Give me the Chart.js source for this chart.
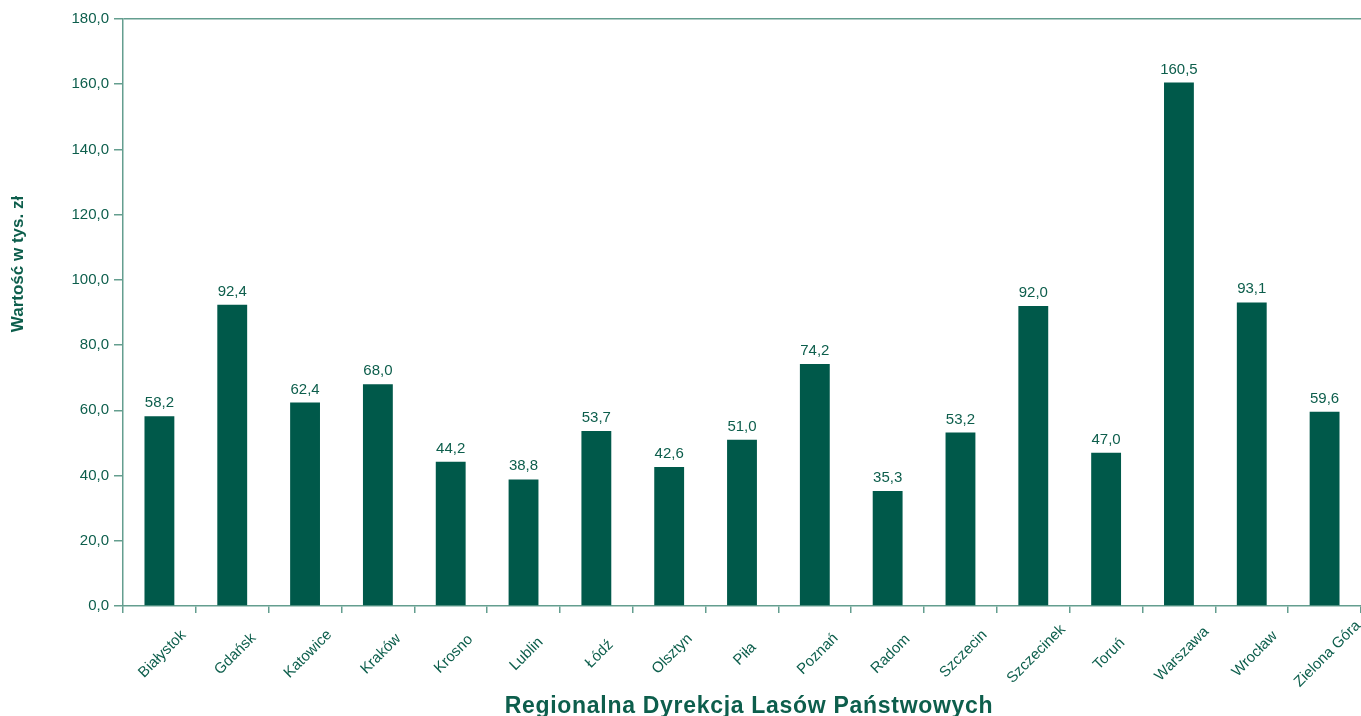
<!DOCTYPE html>
<html>
<head>
<meta charset="utf-8">
<script src="https://cdn.jsdelivr.net/npm/chart.js@4.4.0/dist/chart.umd.min.js"></script>
<style>
html,body{margin:0;padding:0;background:#fff;}
#wrap{width:1361px;height:716px;position:relative;}
</style>
</head>
<body>
<div id="wrap"><canvas id="c" width="1361" height="716"></canvas></div>
<script>
const categories = ["Białystok","Gdańsk","Katowice","Kraków","Krosno","Lublin","Łódź","Olsztyn","Piła","Poznań","Radom","Szczecin","Szczecinek","Toruń","Warszawa","Wrocław","Zielona Góra"];
const values = [58.2, 92.4, 62.4, 68.0, 44.2, 38.8, 53.7, 42.6, 51.0, 74.2, 35.3, 53.2, 92.0, 47.0, 160.5, 93.1, 59.6];
const yTicks = [0, 20, 40, 60, 80, 100, 120, 140, 160, 180];
const yTitle = "Wartość w tys. zł";
const xTitle = "Regionalna Dyrekcja Lasów Państwowych";

const BAR = '#00594a';
const TXT = '#0d5e4c';
const AXIS = '#649e8f';
const FONT = "Arial, 'Liberation Sans', sans-serif";
const fmt = v => v.toFixed(1).replace('.', ',');

const overlay = {
  id: 'overlay',
  afterDraw(chart) {
    const ctx = chart.ctx;
    const meta = chart.getDatasetMeta(0);
    const xs = chart.scales.x;
    ctx.save();
    ctx.fillStyle = TXT;
    // value labels
    ctx.font = "15px " + FONT;
    ctx.textAlign = 'center';
    ctx.textBaseline = 'alphabetic';
    meta.data.forEach((bar, i) => {
      ctx.fillText(fmt(values[i]), bar.x, bar.y - 9);
    });
    // rotated category labels
    categories.forEach((c, i) => {
      const x = xs.getPixelForValue(i);
      ctx.save();
      ctx.translate(x + 3, 654);
      ctx.rotate(-Math.PI / 4);
      ctx.textAlign = 'center';
      ctx.textBaseline = 'middle';
      ctx.fillText(c, 0, 0);
      ctx.restore();
    });
    // y title
    ctx.save();
    ctx.font = "bold 17px " + FONT;
    ctx.translate(18, 264);
    ctx.rotate(-Math.PI / 2);
    ctx.textAlign = 'center';
    ctx.textBaseline = 'middle';
    ctx.fillText(yTitle, 0, 0);
    ctx.restore();
    // x title
    ctx.save();
    ctx.font = "bold 23px " + FONT;
    ctx.letterSpacing = '0.7px';
    ctx.textAlign = 'center';
    ctx.textBaseline = 'alphabetic';
    ctx.fillText(xTitle, 749, 713);
    ctx.restore();
    ctx.restore();
  }
};

new Chart(document.getElementById('c'), {
  type: 'bar',
  data: {
    labels: categories,
    datasets: [{
      data: values,
      backgroundColor: BAR,
      borderWidth: 0,
      categoryPercentage: 1.0,
      barPercentage: 0.41
    }]
  },
  options: {
    responsive: false,
    animation: false,
    devicePixelRatio: 1,
    layout: { padding: { top: 19, right: 0, bottom: 0, left: 10 } },
    plugins: { legend: { display: false }, tooltip: { enabled: false } },
    scales: {
      x: {
        offset: true,
        border: { display: true, color: AXIS, width: 1.5 },
        grid: { offset: true, color: 'rgba(0,0,0,0)', tickColor: AXIS, tickLength: 7, drawTicks: true, lineWidth: 1.5 },
        ticks: { display: false },
        afterFit: s => { s.height = 110; }
      },
      y: {
        min: 0, max: 180,
        afterBuildTicks: s => { s.ticks = yTicks.map(v => ({ value: v })); },
        border: { display: true, color: AXIS, width: 1.5 },
        grid: {
          color: c => (c.tick && c.tick.value === 180) ? AXIS : 'rgba(0,0,0,0)',
          tickColor: AXIS, tickLength: 9, lineWidth: 1.5
        },
        ticks: {
          color: TXT, font: { size: 15, family: FONT }, padding: 5,
          callback: v => fmt(v)
        },
        afterFit: s => { s.width = 113; }
      }
    }
  },
  plugins: [overlay]
});
</script>
</body>
</html>
